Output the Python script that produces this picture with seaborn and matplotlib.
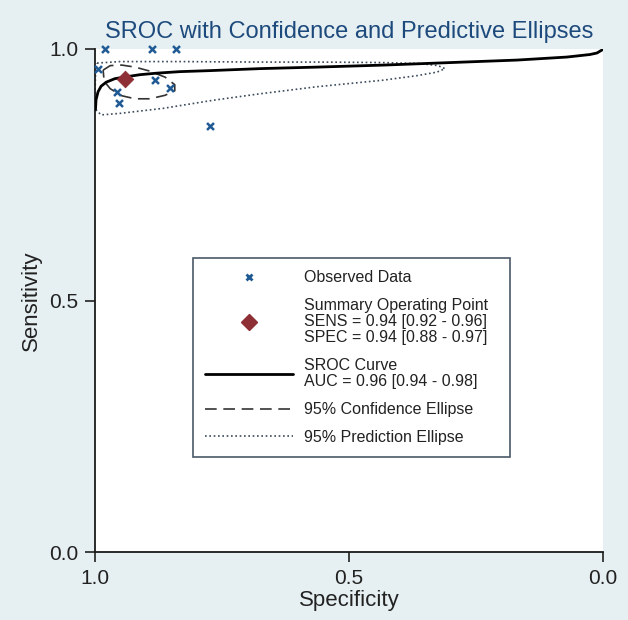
import matplotlib
matplotlib.use("Agg")
import matplotlib.pyplot as plt
from matplotlib.lines import Line2D
import seaborn as sns

# observed study points (specificity, sensitivity)
obs_spec = [0.980, 0.888, 0.841, 0.995, 0.882, 0.852, 0.957, 0.953, 0.773]
obs_sens = [1.000, 1.000, 1.000, 0.960, 0.939, 0.923, 0.915, 0.893, 0.847]

# summary operating point
sum_spec = [0.94]
sum_sens = [0.94]

# SROC curve
sroc_spec = [0.999, 0.998, 0.994, 0.988, 0.978, 0.961, 0.937, 0.911, 0.878, 0.833,
             0.774, 0.675, 0.563, 0.433, 0.301, 0.169, 0.071, 0.026, 0.012, 0.002, 0.0]
sroc_sens = [0.880, 0.899, 0.915, 0.926, 0.934, 0.941, 0.945, 0.949, 0.952, 0.955,
             0.957, 0.961, 0.964, 0.968, 0.973, 0.978, 0.984, 0.989, 0.992, 0.998, 1.0]

# 95% confidence ellipse
conf_spec = [0.984, 0.970, 0.947, 0.921, 0.892, 0.862, 0.843, 0.843, 0.862, 0.892,
             0.921, 0.947, 0.970, 0.982, 0.984]
conf_sens = [0.958, 0.967, 0.968, 0.964, 0.956, 0.944, 0.929, 0.917, 0.908, 0.901,
             0.901, 0.907, 0.921, 0.936, 0.958]

# 95% prediction ellipse
pred_spec = [0.996, 0.951, 0.833, 0.675, 0.557, 0.433, 0.360, 0.325, 0.311, 0.327,
             0.366, 0.433, 0.563, 0.675, 0.768, 0.866, 0.951, 0.988, 0.998, 1.0,
             0.999, 0.996]
pred_sens = [0.972, 0.975, 0.975, 0.974, 0.974, 0.973, 0.971, 0.967, 0.961, 0.954,
             0.947, 0.938, 0.925, 0.911, 0.898, 0.882, 0.872, 0.869, 0.879, 0.909,
             0.948, 0.972]

legend_labels = [
    "Observed Data",
    "Summary Operating Point\nSENS = 0.94 [0.92 - 0.96]\nSPEC = 0.94 [0.88 - 0.97]",
    "SROC Curve\nAUC = 0.96 [0.94 - 0.98]",
    "95% Confidence Ellipse",
    "95% Prediction Ellipse",
]

sns.set_style("ticks")
plt.rcParams['font.family'] = ['Liberation Sans', 'DejaVu Sans']

bg = '#e6eff2'
navy = '#1f5a94'
maroon = '#8e2f35'

fig = plt.figure(figsize=(6.28, 6.20), dpi=100, facecolor=bg)
ax = fig.add_axes([95 / 628, 68 / 620, 508 / 628, 503 / 620])
ax.set_facecolor('white')

dash_style = (0, (7, 4))
dot_style = (0, (1, 1.6))

sns.lineplot(x=pred_spec, y=pred_sens, sort=False, estimator=None, ax=ax,
             color='#3a4a5a', lw=1.2, linestyle=dot_style, zorder=2)
sns.lineplot(x=conf_spec, y=conf_sens, sort=False, estimator=None, ax=ax,
             color='#333333', lw=1.2, linestyle=dash_style, zorder=2)
sns.lineplot(x=sroc_spec, y=sroc_sens, sort=False, estimator=None, ax=ax,
             color='black', lw=2, zorder=3)
sns.scatterplot(x=sum_spec, y=sum_sens, ax=ax, marker='D', s=70, color=maroon,
                edgecolor=maroon, zorder=4, clip_on=False)
sns.scatterplot(x=obs_spec, y=obs_sens, ax=ax, marker='x', s=25, color=navy,
                linewidth=1.8, zorder=5, clip_on=False)

ax.set_xlim(1.0, 0.0)
ax.set_ylim(0.0, 1.0)
ax.set_xticks([1.0, 0.5, 0.0])
ax.set_yticks([0.0, 0.5, 1.0])
ax.set_xticklabels(["1.0", "0.5", "0.0"])
ax.set_yticklabels(["0.0", "0.5", "1.0"])
ax.tick_params(labelsize=15, length=7, width=1.2, pad=5, colors='#222222')

for side in ['top', 'right']:
    ax.spines[side].set_visible(False)
for side in ['left', 'bottom']:
    ax.spines[side].set_color('#1a1a1a')
    ax.spines[side].set_linewidth(1.3)

ax.set_xlabel("Specificity", fontsize=16, color='#222222', labelpad=2)
ax.set_ylabel("Sensitivity", fontsize=16, color='#222222', labelpad=5)
ax.set_title("SROC with Confidence and Predictive Ellipses", fontsize=17,
             color='#1d4a7c', pad=8)

handles = [
    Line2D([], [], ls='none', marker='x', color=navy, markersize=5, mew=2),
    Line2D([], [], ls='none', marker='D', color=maroon, markersize=8),
    Line2D([], [], color='black', lw=2),
    Line2D([], [], color='#333333', lw=1.2, linestyle=dash_style),
    Line2D([], [], color='#3a4a5a', lw=1.2, linestyle=dot_style),
]
leg = ax.legend(handles, legend_labels, loc='upper left',
                bbox_to_anchor=(0.193, 0.187, 0.624, 0.397), mode='expand',
                borderaxespad=0, fontsize=11.5, frameon=True,
                fancybox=False, edgecolor='#4a5a68', framealpha=1,
                handlelength=5.5, handletextpad=0.7, labelspacing=0.8,
                borderpad=0.75)
leg.get_frame().set_linewidth(1.2)
for t in leg.get_texts():
    t.set_linespacing(1.1)
    t.set_color('#222222')

fig.savefig("out.png", dpi=100, facecolor=bg)
